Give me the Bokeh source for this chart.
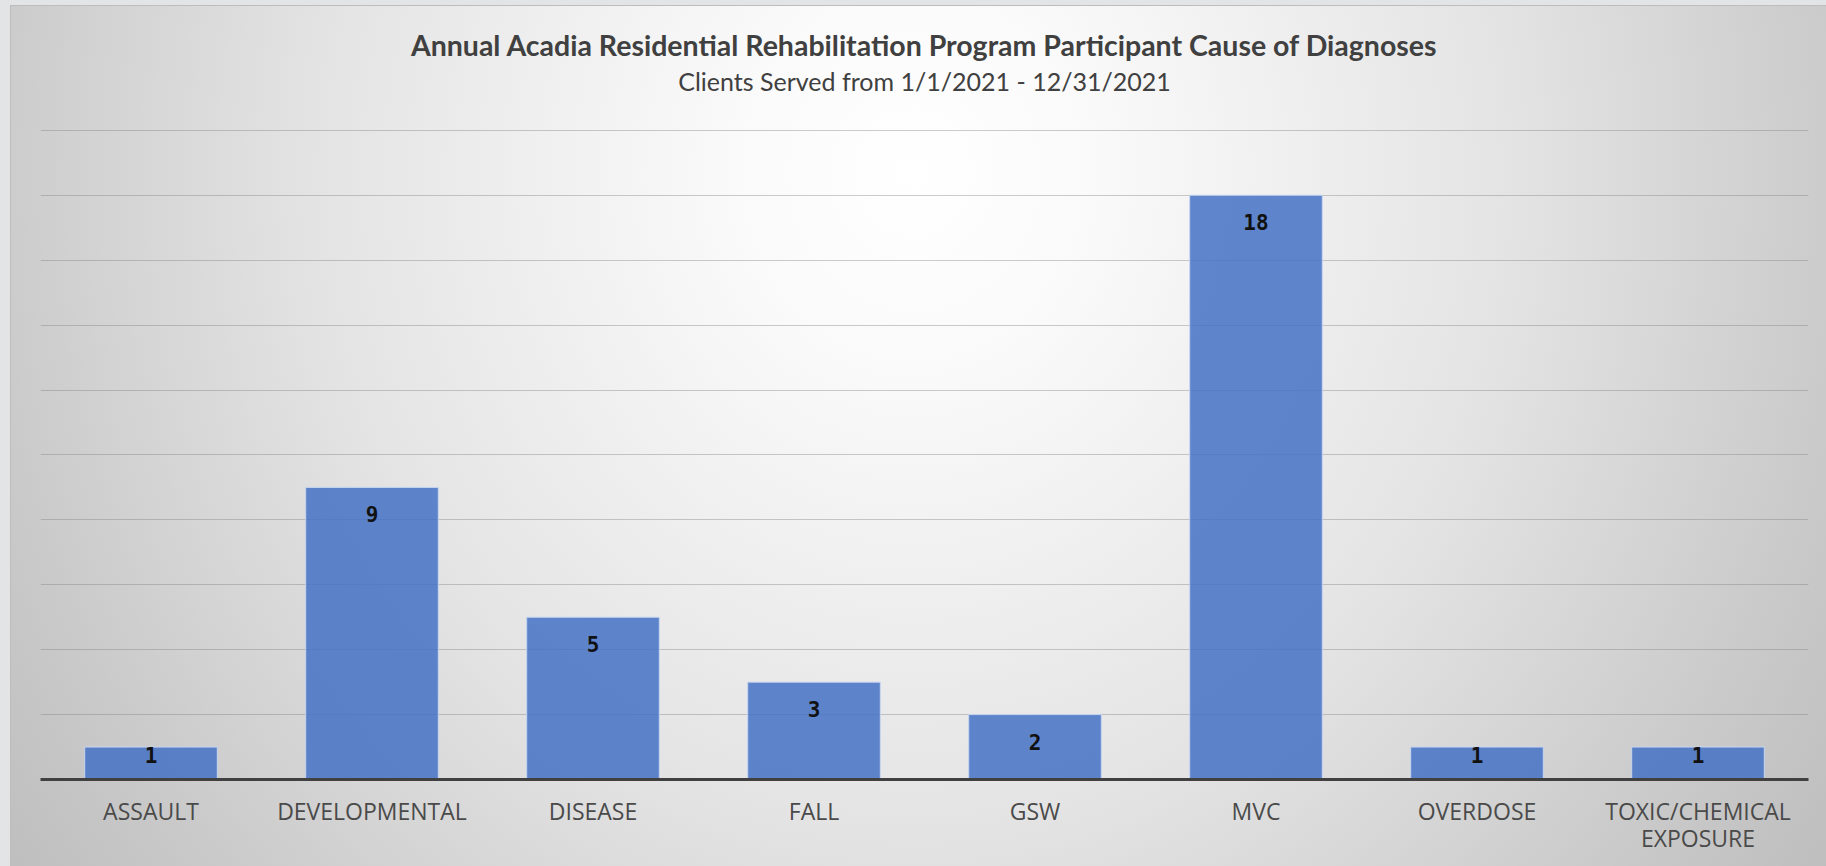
from bokeh.plotting import figure
from bokeh.models import (Range1d, FixedTicker, Label, ColumnDataSource,
                          CategoricalAxis, CustomJSTickFormatter)
from bokeh.embed import file_html
from bokeh.resources import INLINE
from bokeh.core.properties import value

# ---- data ----
categories = ["ASSAULT", "DEVELOPMENTAL", "DISEASE", "FALL", "GSW", "MVC",
              "OVERDOSE", "TOXIC/CHEMICAL EXPOSURE"]
counts = [1, 9, 5, 3, 2, 18, 1, 1]
grid_ticks = [2, 4, 6, 8, 10, 12, 14, 16, 18, 20]
title_text = "Annual Acadia Residential Rehabilitation Program Participant Cause of Diagnoses"
subtitle_text = "Clients Served from 1/1/2021 - 12/31/2021"
wrapped_label = {"TOXIC/CHEMICAL EXPOSURE": ["TOXIC/CHEMICAL", "EXPOSURE"]}

# label positions: just inside the bar top, kept inside short bars
label_y = [max(c - 0.83, 0.74) for c in counts]
src = ColumnDataSource(dict(cat=categories, n=counts, ly=label_y,
                            txt=[str(c) for c in counts]))

p = figure(x_range=categories, y_range=Range1d(0, 24),
           width=1826, height=866, output_backend="svg", toolbar_location=None,
           min_border_left=40, min_border_right=18, min_border_top=0,
           min_border_bottom=87)

p.styles = {
    "background-image":
        "radial-gradient(ellipse 65% 150% at 50% 20%, #ffffff 0%, #fafafa 15%, "
        "#e4e4e4 50%, #c9c9c9 80%, #b9b9b9 100%)",
    "box-shadow": "inset 10px 5px 0 0 #e2e4e6, inset 11px 6px 0 0 #bdbdbd",
}
p.background_fill_color = None
p.border_fill_color = None
p.outline_line_color = None

p.vbar(x="cat", top="n", width=0.6, source=src, fill_color="#4472C4",
       fill_alpha=0.85, line_color="#c8d6f0", line_width=1)

p.text(x="cat", y="ly", text="txt", source=src, text_align="center",
       text_baseline="middle", text_font=value("DejaVu Sans Mono"),
       text_font_style="bold", text_font_size="21px", text_color="#111111")

# axes & grid
p.yaxis.visible = False
p.ygrid.ticker = FixedTicker(ticks=grid_ticks)
p.ygrid.grid_line_color = "#808080"
p.ygrid.grid_line_alpha = 0.4
p.ygrid.grid_line_width = 1
p.xgrid.grid_line_color = None

first_lines = {k: v[0] for k, v in wrapped_label.items()}
second_lines = {k: v[1] for k, v in wrapped_label.items()}

ax = p.xaxis[0]
ax.axis_line_color = "#404040"
ax.axis_line_width = 3
ax.major_tick_line_color = None
ax.minor_tick_line_color = None
ax.major_label_text_font = "Open Sans"
ax.major_label_text_font_size = "23px"
ax.major_label_text_color = "#4a4a4a"
ax.major_label_standoff = 9
ax.formatter = CustomJSTickFormatter(args=dict(m=first_lines),
                                     code="return (tick in m) ? m[tick] : tick;")

# second line of the wrapped category label
ax2 = CategoricalAxis()
ax2.axis_line_color = None
ax2.major_tick_line_color = None
ax2.minor_tick_line_color = None
ax2.major_label_text_font = "Open Sans"
ax2.major_label_text_font_size = "23px"
ax2.major_label_text_color = "#4a4a4a"
ax2.major_label_standoff = -14
ax2.formatter = CustomJSTickFormatter(args=dict(m=second_lines),
                                      code="return (tick in m) ? m[tick] : '';")
p.add_layout(ax2, "below")

# titles
p.add_layout(Label(x=4, y=22.63, text=title_text, text_align="center",
                   text_baseline="alphabetic",
                   text_font="Lato", text_font_style="bold",
                   text_font_size="28.5px", text_color="#404040"))
p.add_layout(Label(x=4, y=21.52, text=subtitle_text, text_align="center",
                   text_baseline="alphabetic",
                   text_font="Lato", text_font_size="25px",
                   text_color="#404040"))

open("out.html", "w").write(file_html(p, INLINE))
